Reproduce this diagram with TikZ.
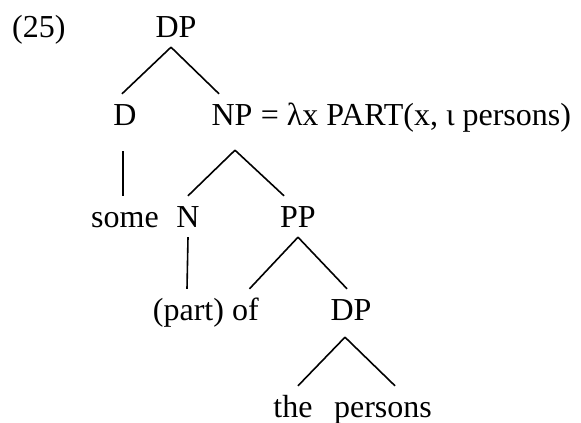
\documentclass[tikz,border=0pt]{standalone}
\usepackage{fontspec}
\setmainfont{LiberationSerif-Regular.ttf}
\usetikzlibrary{positioning}

\begin{document}
\begin{tikzpicture}[
    x=1pt, y=-1pt,
    cat/.style={draw=none,font=\fontsize{32}{38}\selectfont,inner xsep=0pt,inner ysep=10pt,
        text height=21pt,text depth=0pt,anchor=base},
    branch/.style={line width=1.6pt},
]
\useasboundingbox (0,0) rectangle (581,423);

% Example number
\node[cat,anchor=base west] (num) at (12,37) {(25)};

% Root
\node[cat] (dp1) at (176,37) {DP};

% Second level
\node[cat] (d) at (125,125) {D};
\node[cat] (np) at (232,125) {NP};
\node[cat,anchor=base west] (npsem) at (np.base east) {\ = λx PART(x, ι persons)};

% Third level
\node[cat] (some) at (125,227) {some};
\node[cat] (n) at (188,227) {N};
\node[cat] (pp) at (298,227) {PP};

% Fourth level
\node[cat] (part) at (188.5,320) {(part)};
\node[cat] (of) at (245.5,320) {of};
\node[cat] (dp2) at (351,320) {DP};

% Leaves
\node[cat] (the) at (293,417) {the};
\node[cat] (persons) at (383,417) {persons};

% Branches
\draw[branch] ([xshift=-5pt]dp1.south) -- ([xshift=-3pt]d.north);
\draw[branch] ([xshift=-5pt]dp1.south) -- ([xshift=-13pt]np.north);
\draw[branch] ([xshift=-2pt,yshift=-16pt]d.south) -- ([xshift=-2pt]some.north);
\draw[branch] ([xshift=3pt,yshift=-15pt]np.south) -- (n.north);
\draw[branch] ([xshift=3pt,yshift=-15pt]np.south) -- ([xshift=-14pt]pp.north);
\draw[branch] (n.south) -- ([xshift=-1.5pt]part.north);
\draw[branch] (pp.south) -- ([xshift=4pt]of.north);
\draw[branch] (pp.south) -- ([xshift=-4pt]dp2.north);
\draw[branch] ([xshift=-6pt,yshift=-7pt]dp2.south) -- ([xshift=5pt]the.north);
\draw[branch] ([xshift=-6pt,yshift=-7pt]dp2.south) -- ([xshift=12pt]persons.north);

\end{tikzpicture}
\end{document}
